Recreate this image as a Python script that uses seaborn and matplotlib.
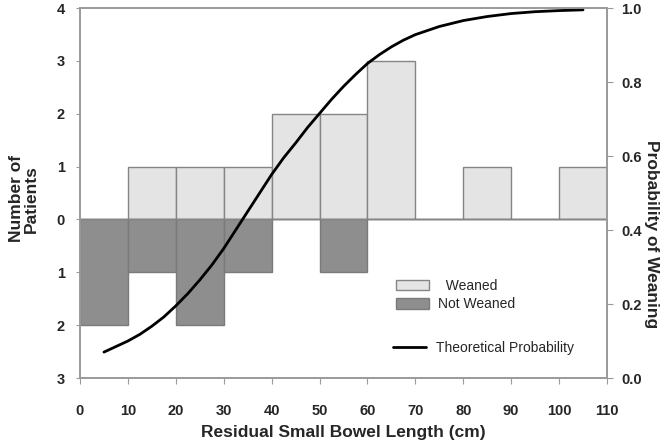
import numpy as np
import matplotlib
matplotlib.use("Agg")
import matplotlib.pyplot as plt
from matplotlib.patches import Patch
from matplotlib.lines import Line2D
import seaborn as sns

# bins of residual small bowel length (cm), left edges
bin_left = [0, 10, 20, 30, 40, 50, 60, 70, 80, 90, 100]
weaned = [0, 1, 1, 1, 2, 2, 3, 0, 1, 0, 1]
not_weaned = [2, 1, 2, 1, 0, 1, 0, 0, 0, 0, 0]

# theoretical probability curve
curve_x = [5, 7.5, 10, 12.5, 15, 17.5, 20, 22.5, 25, 27.5, 30, 32.5, 35, 37.5, 40, 42.5, 45, 47.5,
           50, 52.5, 55, 57.5, 60, 62.5, 65, 67.5, 70, 75, 80, 85, 90, 95, 100, 105]
curve_p = [0.07, 0.085, 0.10, 0.118, 0.14, 0.165, 0.195, 0.228, 0.265, 0.305, 0.35, 0.40, 0.45,
           0.50, 0.55, 0.595, 0.635, 0.677, 0.715, 0.753, 0.788, 0.82, 0.85, 0.874, 0.895, 0.913,
           0.928, 0.95, 0.966, 0.977, 0.985, 0.99, 0.993, 0.995]

left_ticks = [-3, -2, -1, 0, 1, 2, 3, 4]
right_ticks = [0.0, 0.2, 0.4, 0.6, 0.8, 1.0]
x_ticks = list(range(0, 120, 10))

sns.set_style("ticks")
plt.rcParams["font.family"] = ["Liberation Sans", "DejaVu Sans"]

fig = plt.figure(figsize=(6.65, 4.43), dpi=100)
ax = fig.add_axes([80 / 665, 1 - 378 / 443, 527 / 665, 370 / 443])

spine_col = "#9a9a9a"
light = "#e4e4e4"
dark = "#8e8e8e"

# weaned bars (up) and not weaned bars (down)
ax.bar(bin_left, weaned, width=10, align="edge", color=light, edgecolor="#858585", linewidth=1, zorder=2)
ax.bar(bin_left, [-v for v in not_weaned], width=10, align="edge", color=dark, edgecolor="#7a7a7a",
       linewidth=1, zorder=2)
ax.axhline(0, color="#858585", lw=1, zorder=3)

ax.set_xlim(0, 110)
ax.set_ylim(-3, 4)
ax.set_xticks(x_ticks)
ax.set_yticks(left_ticks)
ax.set_yticklabels([str(abs(t)) for t in left_ticks])
ax.tick_params(axis="y", direction="out", length=3, pad=8, labelsize=10.5, color=spine_col)
ax.tick_params(axis="x", direction="out", length=4, pad=15, labelsize=10.5, color=spine_col)
for lab in ax.get_xticklabels() + ax.get_yticklabels():
    lab.set_fontweight("bold")

for s in ax.spines.values():
    s.set_color(spine_col)
    s.set_linewidth(1.2)

ax.set_xlabel("Residual Small Bowel Length (cm)", fontsize=12.5, fontweight="bold", labelpad=5)

# right axis: probability
ax2 = ax.twinx()
sns.lineplot(x=curve_x, y=curve_p, ax=ax2, color="black", linewidth=2)
ax2.set_ylim(0, 1)
ax2.set_yticks(right_ticks)
ax2.set_yticklabels([f"{t:.1f}" for t in right_ticks])
ax2.tick_params(axis="y", direction="out", length=4, pad=6, labelsize=10.5, color=spine_col)
for lab in ax2.get_yticklabels():
    lab.set_fontweight("bold")
for s in ax2.spines.values():
    s.set_color(spine_col)
    s.set_linewidth(1.2)
ax2.set_ylabel("")

fig.text(24 / 665, 1 - 199 / 443, "Number of\nPatients", rotation=90, ha="center", va="center",
         fontsize=12.5, fontweight="bold", linespacing=1.0)
fig.text(652 / 665, 1 - 234 / 443, "Probability of Weaning", rotation=-90, ha="center", va="center",
         fontsize=12.5, fontweight="bold")

# legends
bar_handles = [Patch(facecolor=light, edgecolor="#858585", label="  Weaned"),
               Patch(facecolor=dark, edgecolor="#7a7a7a", label="Not Weaned")]
leg1 = ax2.legend(handles=bar_handles, loc="center left", bbox_to_anchor=(396 / 665, 1 - 295 / 443),
                  bbox_transform=fig.transFigure, frameon=False, fontsize=10, handlelength=2.4,
                  handleheight=0.8, handletextpad=0.6, labelspacing=0.3, borderpad=0, borderaxespad=0)
ax2.add_artist(leg1)
line_handle = [Line2D([0], [0], color="black", lw=2, label="Theoretical Probability")]
ax2.legend(handles=line_handle, loc="center left", bbox_to_anchor=(393 / 665, 1 - 348 / 443),
           bbox_transform=fig.transFigure, frameon=False, fontsize=10, handlelength=2.4,
           handletextpad=0.7, borderpad=0, borderaxespad=0)

fig.savefig("out.png", dpi=100)
